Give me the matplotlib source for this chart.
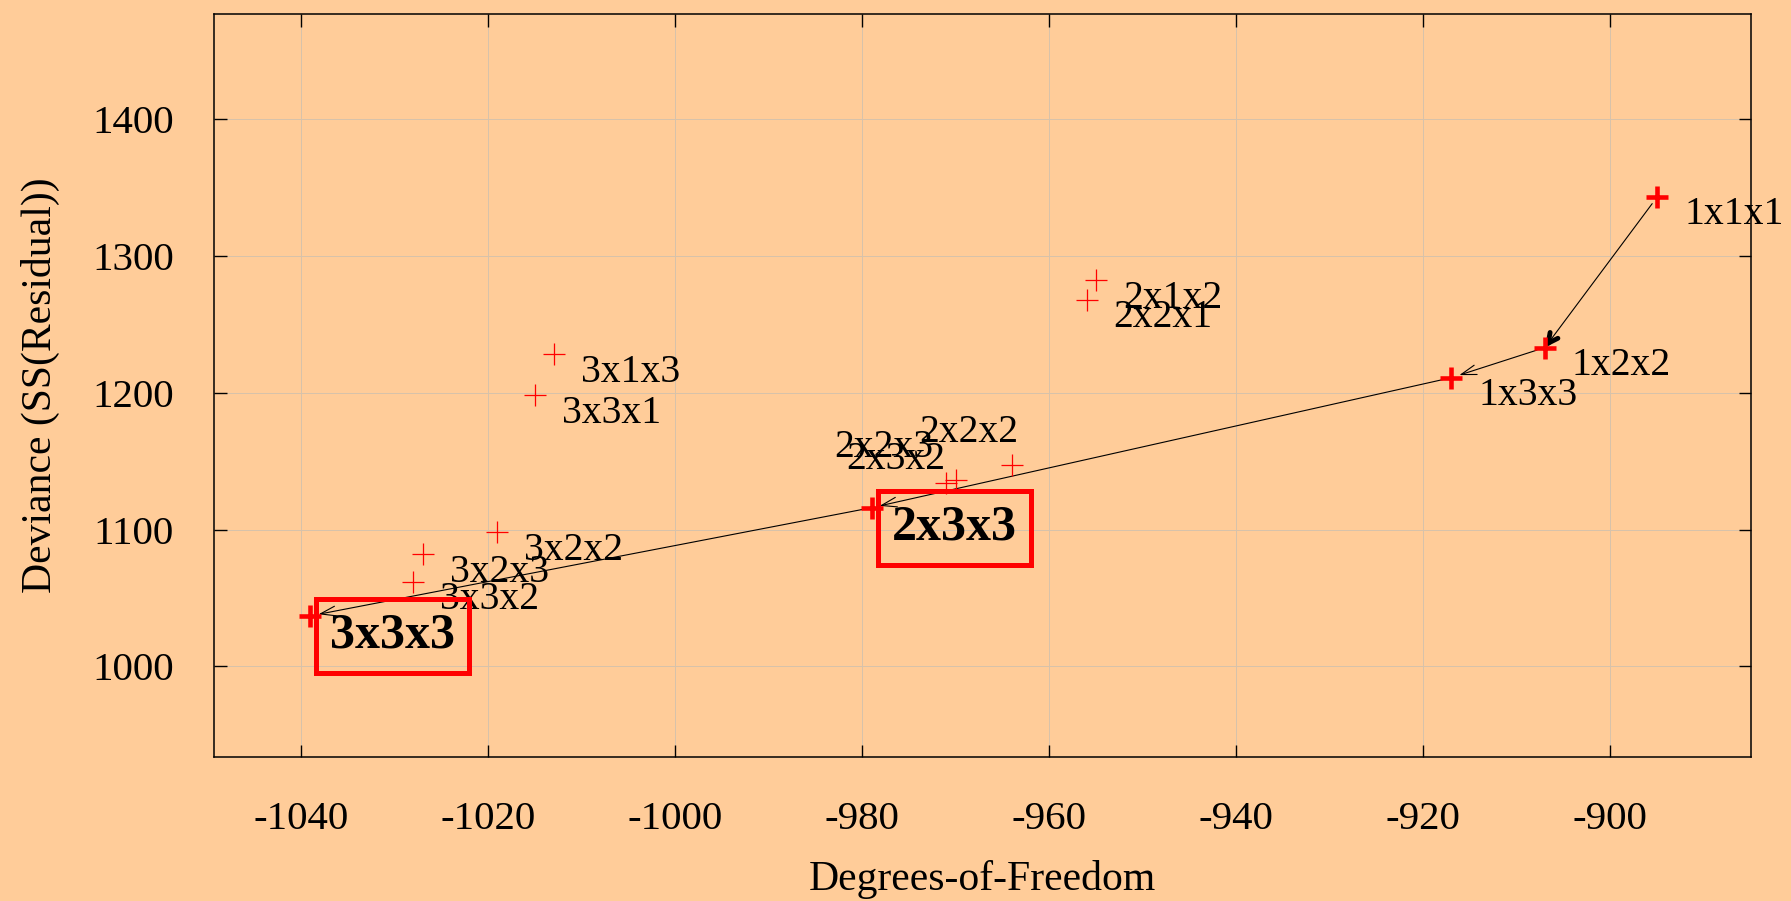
import numpy as np
import matplotlib.pyplot as plt

# Candidate model sizes and their fit
models = ["1x1x1", "1x2x2", "1x3x3", "2x1x2", "2x2x1", "2x2x2", "2x2x3", "2x3x2",
          "2x3x3", "3x1x3", "3x3x1", "3x2x2", "3x2x3", "3x3x2", "3x3x3"]
dof = [-895, -907, -917, -955, -956, -964, -971, -970,
       -979, -1013, -1015, -1019, -1027, -1028, -1039]
deviance = [1343, 1233, 1211, 1282, 1268, 1147, 1134, 1136.5,
            1116, 1228, 1198, 1098, 1082, 1062, 1037]

# Models on the selection path, and the ones boxed as chosen
path = ["1x1x1", "1x2x2", "1x3x3", "2x3x3", "3x3x3"]
chosen = ["2x3x3", "3x3x3"]

xticks = [-1040, -1020, -1000, -980, -960, -940, -920, -900]
yticks = [1000, 1100, 1200, 1300, 1400]

# label offsets in pixels (left edge, vertical centre) where the default overlaps
label_offset = {"2x2x3": (-112, 36), "2x3x2": (-109, 20), "2x2x2": (-93, 33)}
default_offset = (27, -18)

bg = "#ffcc99"
serif = ["Liberation Serif", "DejaVu Serif"]
plt.rcParams["font.family"] = serif
plt.rcParams["axes.unicode_minus"] = False

fig = plt.figure(figsize=(17.91, 9.01), dpi=100, facecolor=bg)
ax = fig.add_axes([0.1195, 0.16, 0.858, 0.825], facecolor=bg)

pos = {m: (x, y) for m, x, y in zip(models, dof, deviance)}

# path arrows
for a, b in zip(path[:-1], path[1:]):
    if a == path[0]:
        ax.annotate("", xy=pos[b], xytext=pos[a],
                    arrowprops=dict(arrowstyle="-", lw=0.8, color="black",
                                    shrinkA=6, shrinkB=6), zorder=3)
        # heavier head on the first step
        bx, by = pos[b]
        ax_, ay = pos[a]
        tail = (bx + (ax_ - bx) * 0.04, by + (ay - by) * 0.04)
        ax.annotate("", xy=pos[b], xytext=tail,
                    arrowprops=dict(arrowstyle="->,head_length=0.7,head_width=0.35",
                                    lw=3.5, color="black", shrinkA=0, shrinkB=6),
                    zorder=3)
    else:
        ax.annotate("", xy=pos[b], xytext=pos[a],
                    arrowprops=dict(arrowstyle="->,head_length=1.1,head_width=0.35",
                                    lw=0.8, color="black", shrinkA=6, shrinkB=6),
                    zorder=3)

others = [m for m in models if m not in path]
ax.plot([pos[m][0] for m in others], [pos[m][1] for m in others], ls="none",
        marker="+", ms=16.5, mew=0.9, color="red", zorder=4)
ax.plot([pos[m][0] for m in path], [pos[m][1] for m in path], ls="none",
        marker="+", ms=16, mew=3.3, color="red", zorder=4)

for m in models:
    if m in chosen:
        ax.annotate(m, pos[m], xytext=(20, -20), textcoords="offset pixels",
                    ha="left", va="center", fontsize=36, fontweight="bold",
                    bbox=dict(boxstyle="square,pad=0.28", fc="none", ec="red", lw=3.6),
                    zorder=5)
    else:
        dx, dy = label_offset.get(m, default_offset)
        ax.annotate(m, pos[m], xytext=(dx, dy), textcoords="offset pixels",
                    ha="left", va="center", fontsize=28.5, zorder=5)

ax.set_xlim(-1049.3, -885)
ax.set_ylim(934, 1477)
ax.set_xticks(xticks)
ax.set_yticks(yticks)
ax.grid(True, color="#d6c2ab", lw=0.7)
ax.set_axisbelow(True)
ax.tick_params(direction="in", length=9, width=1, top=True, right=True,
               labelsize=29.5)
ax.tick_params(axis="x", pad=32)
ax.tick_params(axis="y", pad=29)
for s in ax.spines.values():
    s.set_linewidth(1.1)

ax.set_xlabel("Degrees-of-Freedom", fontsize=30, va="center")
ax.set_ylabel("Deviance (SS(Residual))", fontsize=30, va="center")
ax.xaxis.set_label_coords(0.5, -0.1654)
ax.yaxis.set_label_coords(-0.1132, 0.5)

fig.savefig("out.png", dpi=100, facecolor=bg)
